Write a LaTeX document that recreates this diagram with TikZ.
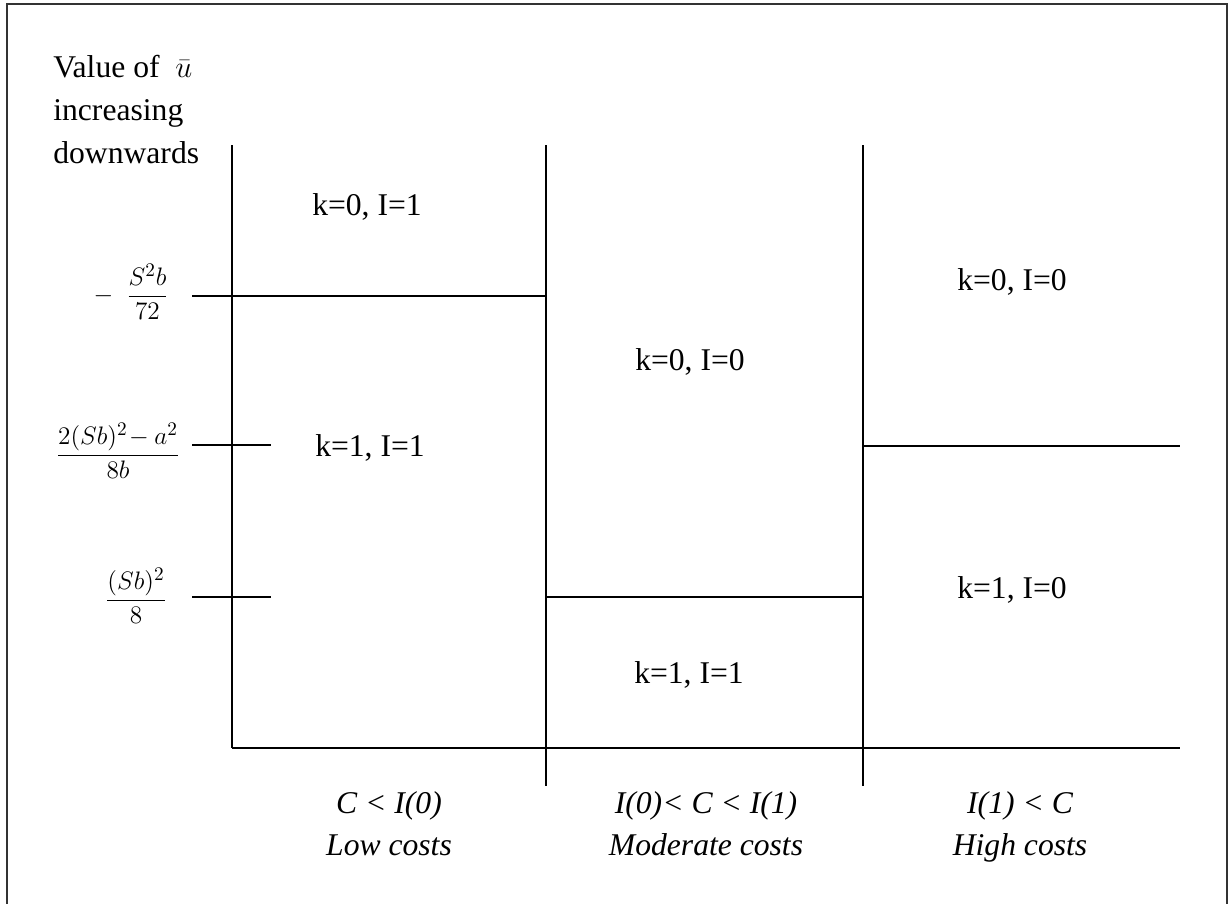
\documentclass[tikz,border=0pt]{standalone}
\usepackage{amsmath}
\usepackage{fontspec}
\setmainfont{Liberation Serif}
\begin{document}
\begin{tikzpicture}[x=0.02cm,y=-0.02cm,
  lbl/.style={font=\fontsize{18}{21}\selectfont, inner sep=0pt, anchor=base},
  cost/.style={font=\fontsize{18}{21}\selectfont\itshape, inner sep=0pt, anchor=base},
  mth/.style={font=\fontsize{15}{18}\selectfont, inner sep=0pt, anchor=base},
  ln/.style={line width=1pt, black}]
\useasboundingbox (0,0) rectangle (1229,903);
% outer frame (bottom edge outside picture)
\draw[line width=0.8pt, black!80] (7,910) -- (7,4) -- (1227,4) -- (1227,910);
% coordinates
\coordinate (v1t) at (232,145); \coordinate (v1b) at (232,748);
\coordinate (v2t) at (546,145); \coordinate (v2b) at (546,786);
\coordinate (v3t) at (863,145); \coordinate (v3b) at (863,786);
\coordinate (axL) at (232,748); \coordinate (axR) at (1180,748);
\coordinate (h1L) at (192,296); \coordinate (h1R) at (546,296);
\coordinate (t2L) at (192,445); \coordinate (t2R) at (271,445);
\coordinate (t3L) at (192,597); \coordinate (t3R) at (271,597);
\coordinate (h3L) at (546,597); \coordinate (h3R) at (863,597);
\coordinate (h4L) at (863,446); \coordinate (h4R) at (1180,446);
\draw[ln] (v1t) -- (v1b);
\draw[ln] (v2t) -- (v2b);
\draw[ln] (v3t) -- (v3b);
\draw[ln] (axL) -- (axR);
\draw[ln] (h1L) -- (h1R);
\draw[ln] (t2L) -- (t2R);
\draw[ln] (t3L) -- (t3R);
\draw[ln] (h3L) -- (h3R);
\draw[ln] (h4L) -- (h4R);
% region labels
\node[lbl] (r1) at (367,215) {k=0, I=1};
\node[lbl] (r2) at (370,456) {k=1, I=1};
\node[lbl] (r3) at (690,370) {k=0, I=0};
\node[lbl] (r4) at (689,683) {k=1, I=1};
\node[lbl] (r5) at (1012,290) {k=0, I=0};
\node[lbl] (r6) at (1012,598) {k=1, I=0};
% axis title
\node[lbl, anchor=base west] (t1) at (53,77) {Value of\ \ $\bar{u}$};
\node[lbl, anchor=base west] (t2) at (53,120) {increasing};
\node[lbl, anchor=base west] (t3) at (53,163) {downwards};
% tick labels
\node[mth] (m1) at (131,302.5) {$-\ \ \dfrac{S^2b}{72}$};
\node[mth] (m2) at (118,461.5) {$\dfrac{2(Sb)^2\!-a^2}{8b}$};
\node[mth] (m3) at (136,606.5) {$\dfrac{(Sb)^2}{8}$};
% cost labels
\node[cost] (c1) at (389,813) {C < I(0)};
\node[cost] (c2) at (389,855) {Low costs};
\node[cost] (c3) at (706,813) {I(0)< C < I(1)};
\node[cost] (c4) at (706,855) {Moderate costs};
\node[cost] (c5) at (1020,813) {I(1) < C};
\node[cost] (c6) at (1020,855) {High costs};
\end{tikzpicture}
\end{document}
